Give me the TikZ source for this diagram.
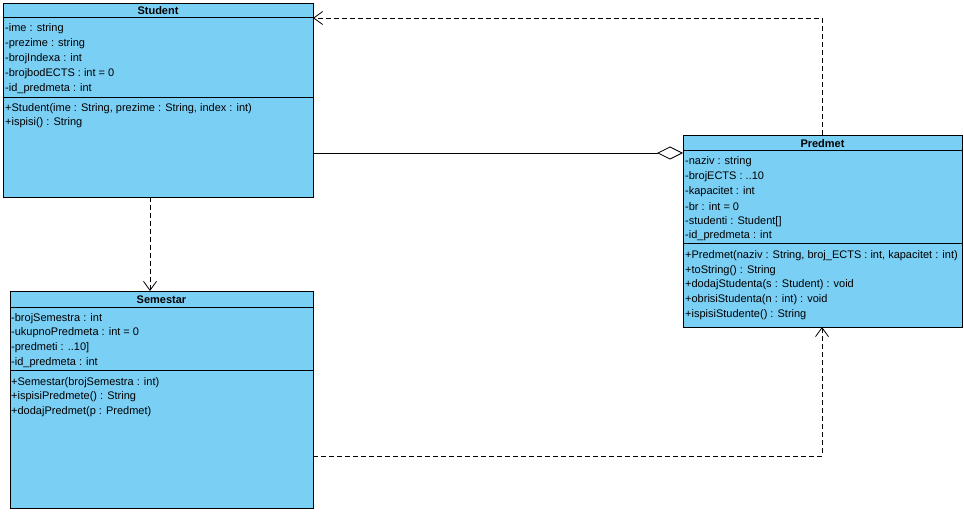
\documentclass[tikz,border=0pt]{standalone}
\usepackage{fontspec}
\setmainfont{Liberation Sans}
\usetikzlibrary{arrows.meta,calc}
\definecolor{classfill}{RGB}{122,207,245}
\begin{document}
\begin{tikzpicture}[x=1pt,y=-1pt,
  classbox/.style={draw=black,fill=classfill,line width=0.9pt,anchor=north west,inner sep=0pt,outer sep=0pt},
  sepline/.style={line width=0.9pt},
  head/.style={font=\fontsize{11}{13}\selectfont\bfseries,inner sep=0pt,yshift=-1pt},
  member/.style={font=\fontsize{11}{13}\selectfont,inner sep=0pt,anchor=west,yshift=-1.5pt},
  conn/.style={line width=0.8pt},
  depline/.style={conn,dash pattern=on 5pt off 3pt,-{Straight Barb[length=9pt,width=13pt,line width=0.8pt]}},
  aggline/.style={conn,-{Diamond[open,fill=white,length=26pt,width=13pt,line width=0.8pt]}}
]
\useasboundingbox (0,0) rectangle (964,513);

% ---------- Student ----------
\node[classbox,minimum width=310pt,minimum height=194pt] (student) at (3,3) {};
\draw[sepline] (3,17) -- (313,17);
\draw[sepline] (3,97) -- (313,97);
\node[head] (studentH) at (158,10) {Student};
\node[member] (s1) at (5,27) {-ime : string};
\node[member] (s2) at (5,42) {-prezime : string};
\node[member] (s3) at (5,57) {-brojIndexa : int};
\node[member] (s4) at (5,72) {-brojbodECTS : int = 0};
\node[member] (s5) at (5,87) {-id\_predmeta : int};
\node[member] (s6) at (5,107) {+Student(ime : String, prezime : String, index : int)};
\node[member] (s7) at (5,121) {+ispisi() : String};

% ---------- Semestar ----------
\node[classbox,minimum width=303pt,minimum height=217pt] (semestar) at (10,291) {};
\draw[sepline] (10,307) -- (313,307);
\draw[sepline] (10,370) -- (313,370);
\node[head] (semestarH) at (161.5,299) {Semestar};
\node[member] (m1) at (11,317) {-brojSemestra : int};
\node[member] (m2) at (11,331.5) {-ukupnoPredmeta : int = 0};
\node[member] (m3) at (11,346) {-predmeti : ..10]};
\node[member] (m4) at (11,361) {-id\_predmeta : int};
\node[member] (m5) at (11,381) {+Semestar(brojSemestra : int)};
\node[member] (m6) at (11,395.5) {+ispisiPredmete() : String};
\node[member] (m7) at (11,410) {+dodajPredmet(p : Predmet)};

% ---------- Predmet ----------
\node[classbox,minimum width=279pt,minimum height=192pt] (predmet) at (683,135) {};
\draw[sepline] (683,150) -- (962,150);
\draw[sepline] (683,243) -- (962,243);
\node[head] (predmetH) at (822.5,143) {Predmet};
\node[member] (p1) at (685,160.5) {-naziv : string};
\node[member] (p2) at (685,175.3) {-brojECTS : ..10};
\node[member] (p3) at (685,190.1) {-kapacitet : int};
\node[member] (p4) at (685,204.9) {-br : int = 0};
\node[member] (p5) at (685,219.7) {-studenti : Student[]};
\node[member] (p6) at (685,234.5) {-id\_predmeta : int};
\node[member] (p7) at (685,254) {+Predmet(naziv : String, broj\_ECTS : int, kapacitet : int)};
\node[member] (p8) at (685,268.8) {+toString() : String};
\node[member] (p9) at (685,283.6) {+dodajStudenta(s : Student) : void};
\node[member] (p10) at (685,298.4) {+obrisiStudenta(n : int) : void};
\node[member] (p11) at (685,313.2) {+ispisiStudente() : String};

% ---------- Connectors ----------
\coordinate (topbend) at (822,18);
\coordinate (aggy) at (0,153);
\coordinate (downx) at (150,0);
\coordinate (botbend) at (822,456);

\draw[depline] (predmet.north -| topbend) -- (topbend) -- (student.east |- topbend);
\draw[aggline] (student.east |- aggy) -- (predmet.west |- aggy);
\draw[depline] (student.south -| downx) -- (semestar.north -| downx);
\draw[depline] (semestar.east |- botbend) -- (botbend) -- (predmet.south -| botbend);
\end{tikzpicture}
\end{document}
